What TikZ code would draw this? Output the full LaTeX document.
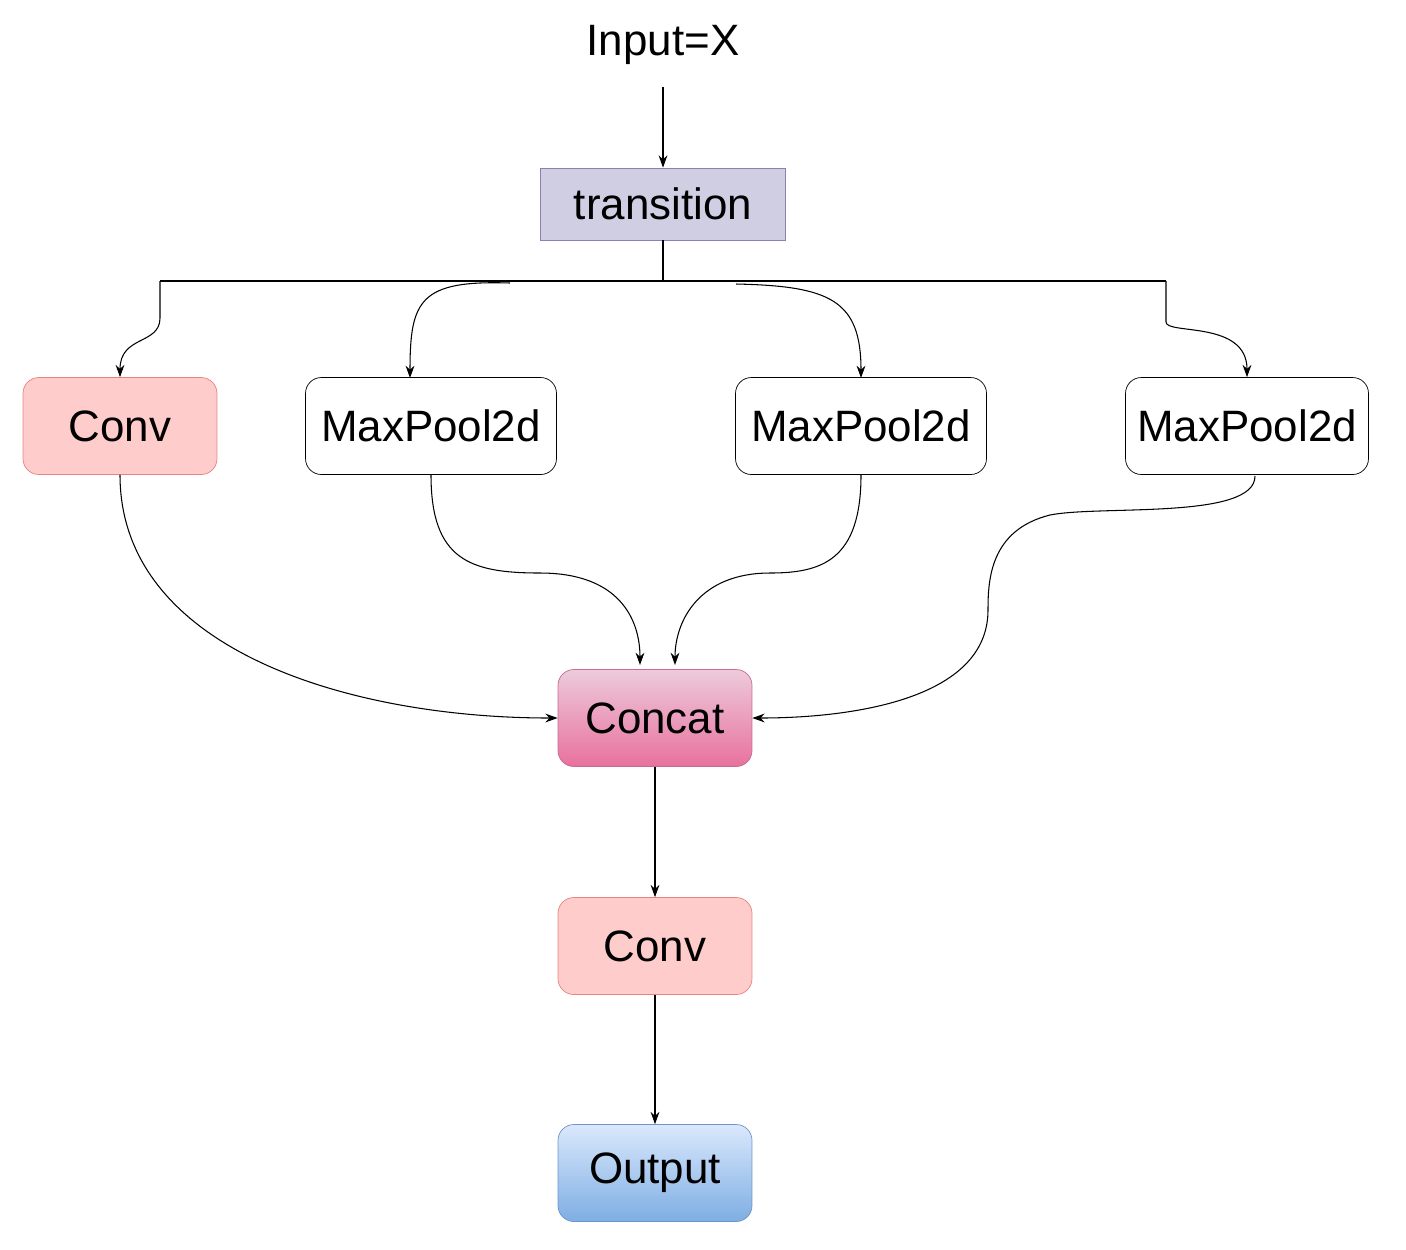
\documentclass[tikz,border=0pt]{standalone}
\usepackage{fontspec}
\setmainfont{Liberation Sans}
\usetikzlibrary{arrows.meta}
\definecolor{redf}{HTML}{FFCCCC}\definecolor{redd}{HTML}{E8827F}
\definecolor{purf}{HTML}{D0CEE2}\definecolor{purd}{HTML}{8C7FB5}
\definecolor{pinkt}{HTML}{EDCBDC}\definecolor{pinkb}{HTML}{E8719D}\definecolor{pinkd}{HTML}{C96A92}
\definecolor{bluet}{HTML}{DAE8FC}\definecolor{blueb}{HTML}{7EAEE3}\definecolor{blued}{HTML}{6C95C8}
\begin{document}
\begin{tikzpicture}[x=0.02cm,y=-0.02cm,
  box/.style={draw,rounded corners=9pt,minimum height=1.94cm,font=\fontsize{25}{30}\selectfont,inner sep=0pt},
  ar/.style={-{Stealth[length=7pt,width=5pt]},line width=0.6pt}]
\useasboundingbox (0,0) rectangle (1406,1249);
\node[font=\fontsize{25}{30}\selectfont] (in) at (663,45) {Input=X};
\node[draw=purd,fill=purf,minimum width=4.9cm,minimum height=1.44cm,font=\fontsize{25}{30}\selectfont] (tr) at (663,204) {transition};
\node[box,draw=redd,fill=redf,minimum width=3.88cm] (c1) at (120,426) {Conv};
\node[box,fill=white,minimum width=5.02cm] (m1) at (431,426) {MaxPool2d};
\node[box,fill=white,minimum width=5.02cm] (m2) at (861,426) {MaxPool2d};
\node[box,fill=white,minimum width=4.86cm] (m3) at (1247,426) {MaxPool2d};
\node[box,draw=pinkd,top color=pinkt,bottom color=pinkb,minimum width=3.88cm] (cc) at (655,718) {Concat};
\node[box,draw=redd,fill=redf,minimum width=3.88cm] (c2) at (655,946) {Conv};
\node[box,draw=blued,top color=bluet,bottom color=blueb,minimum width=3.88cm] (out) at (655,1173) {Output};
\coordinate (bl) at (160,281); \coordinate (br) at (1166,281);
\coordinate (bm) at (663,281);
\draw[ar] (in.south) ++(0,16) -- (tr.north);
\draw[line width=1.4pt] (tr.south) -- (bm);
\draw[line width=1.4pt] (bl) -- (br);
\draw[ar] (bl) -- (160,318) .. controls (160,345) and (120,335) .. (c1.north);
\draw[ar] (br) -- (1166,322) .. controls (1166,335) and (1247,320) .. (m3.north);
\draw[ar] (510,283) .. controls (420,280) and (410,300) .. (410,378);
\draw[ar] (736,284) .. controls (830,286) and (861,300) .. (861,378);
\draw[ar] (c1.south) .. controls (120,650) and (350,718) .. (cc.west);
\draw[ar] (m1.south) .. controls (431,560) and (470,573) .. (540,573) .. controls (620,573) and (640,620) .. (640,665);
\draw[ar] (m2.south) .. controls (861,560) and (822,573) .. (770,573) .. controls (700,573) and (675,620) .. (675,665);
\draw[ar] (1255,476) .. controls (1255,520) and (1100,505) .. (1050,515) .. controls (990,530) and (988,580) .. (988,610) .. controls (988,700) and (850,718) .. (cc.east);
\draw[ar] (cc.south) -- (c2.north);
\draw[ar] (c2.south) -- (out.north);
\end{tikzpicture}
\end{document}
